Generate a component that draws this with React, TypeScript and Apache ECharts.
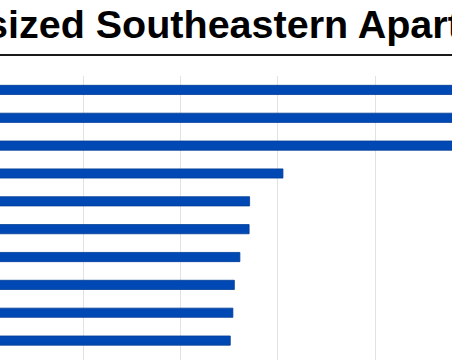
import React, { useEffect, useRef } from "react";
import * as echarts from "echarts";

const titleText = "sized Southeastern Apart";
const categories = ["#1", "#2", "#3", "#4", "#5", "#6", "#7", "#8", "#9", "#10"];
const unitValues = [52000, 51000, 50000, 30580, 27150, 27100, 26150, 25580, 25430, 25160];
const axisMin = 0;
const axisMax = 60000;
const axisInterval = 10000;

export default function App() {
  const ref = useRef<HTMLDivElement>(null);
  useEffect(() => {
    if (!ref.current) return;
    const chart = echarts.init(ref.current, null, { renderer: "svg" });
    chart.setOption({
      animation: false,
      backgroundColor: "#ffffff",
      grid: {
        left: -13.9,
        right: -117.3,
        top: 76,
        bottom: -22.35,
        containLabel: false,
        outerBoundsMode: "none",
      },
      xAxis: {
        type: "value",
        min: axisMin,
        max: axisMax,
        interval: axisInterval,
        axisLabel: { show: false },
        axisLine: { show: false },
        axisTick: { show: false },
        splitLine: { show: true, lineStyle: { color: "#e2e2e2", width: 1 } },
      },
      yAxis: {
        type: "category",
        data: categories,
        inverse: true,
        max: categories.length,
        axisLabel: { show: false },
        axisLine: { show: false },
        axisTick: { show: false },
        splitLine: { show: false },
      },
      series: [
        {
          type: "bar",
          data: unitValues,
          barWidth: 10,
          silent: true,
          itemStyle: { color: "#0049b5", borderColor: "#003c94", borderWidth: 0.8 },
        },
      ],
      graphic: [
        {
          type: "text",
          x: -14,
          y: 23.5,
          style: {
            text: titleText,
            font: 'bold 39.5px "Liberation Sans", Arial, sans-serif',
            fill: "#000000",
            verticalAlign: "middle",
            align: "left",
          },
        },
        {
          type: "line",
          shape: { x1: 0, y1: 55, x2: 452, y2: 55 },
          style: { stroke: "#1a1a1a", lineWidth: 2 },
        },
      ],
    });
    return () => chart.dispose();
  }, []);
  return (
    <div
      ref={ref}
      style={{ position: "fixed", left: 0, top: 0, width: 452, height: 360 }}
    />
  );
}
